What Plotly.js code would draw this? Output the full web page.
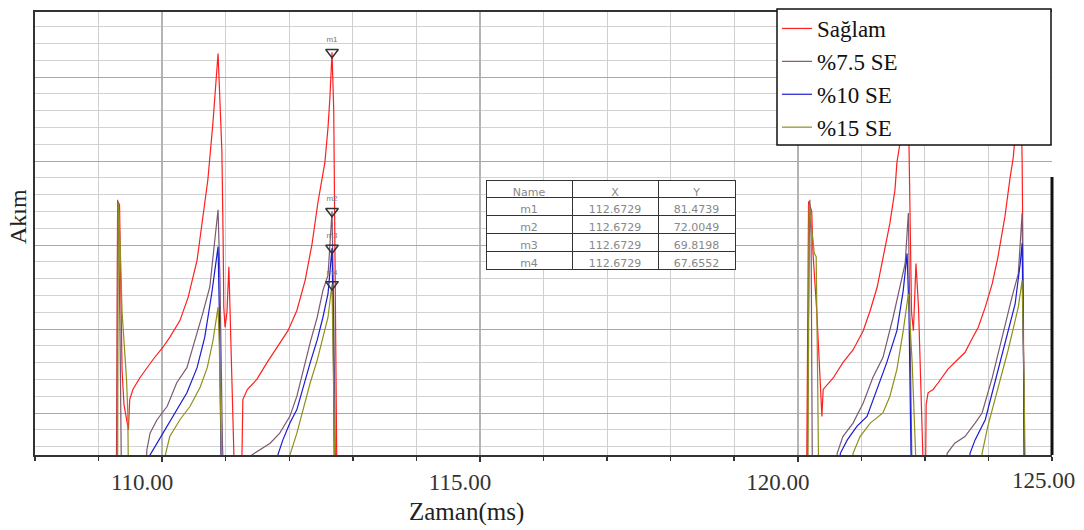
<!DOCTYPE html>
<html>
<head>
<meta charset="utf-8">
<script src="https://cdn.plot.ly/plotly-3.0.1.min.js"></script>
<style>html,body{margin:0;padding:0;background:#fff;}#chart{width:1084px;height:530px;}</style>
</head>
<body>
<div id="chart"></div>
<script>
// ---- data (time in ms, current value) ----
const seriesNames = ['Sağlam', '%7.5 SE', '%10 SE', '%15 SE'];

const saglam = [
  [108,56],[109.28,56],[109.29,63.2],[109.30,72.6],[109.33,72.4],[109.35,66.0],[109.37,62.5],[109.40,60.5],[109.45,59.4],[109.47,59.0],
  [109.49,60.8],[109.54,61.4],[109.65,62.1],[109.76,62.7],[109.86,63.2],[110.01,63.9],[110.12,64.5],[110.28,65.5],[110.41,66.9],[110.55,69.1],
  [110.64,71.5],[110.72,73.9],[110.80,77.3],[110.86,80.2],[110.88,81.4],[110.91,78.5],[110.94,75.6],[110.96,70.3],[110.97,66.3],[110.99,65.1],
  [111.02,66.0],[111.05,68.7],[111.08,65.0],[111.10,62.7],[111.12,59.0],[111.14,56],
  [111.25,56],[111.26,60.2],[111.27,60.8],[111.34,61.4],[111.49,62.0],[111.65,63.0],[111.81,63.9],[111.98,64.9],[112.12,66.1],[112.25,67.9],
  [112.36,70.1],[112.45,72.5],[112.56,74.9],[112.61,77.0],[112.64,78.8],[112.6729,81.4739],[112.70,78.0],[112.72,70.0],[112.74,60.0],[112.75,56],
  [120.14,56],[120.15,65.0],[120.17,72.6],[120.22,72.0],[120.24,69.5],[120.30,66.0],[120.35,62.0],[120.38,59.8],[120.40,61.4],[120.56,62.1],
  [120.71,63.0],[120.87,63.75],[121.03,64.9],[121.14,66.1],[121.25,67.5],[121.34,69.3],[121.45,71.3],[121.53,73.3],[121.56,74.9],[121.61,76.1],
  [121.69,81.5],[121.75,76.0],[121.79,66.0],[121.82,64.9],[121.86,68.9],[121.90,66.3],[121.94,62.0],[121.98,56],
  [122.01,56],[122.02,60.5],[122.05,61.2],[122.13,61.4],[122.21,61.8],[122.36,62.6],[122.52,63.2],[122.63,63.6],[122.74,64.4],[122.84,65.1],
  [122.95,66.3],[123.06,67.7],[123.15,69.3],[123.26,71.7],[123.34,74.0],[123.39,75.2],[123.42,76.5],[123.50,81.5],[123.53,75.0],[123.55,66.0],
  [123.56,56],[124,56]
];

const se75 = [
  [108,56],[109.29,56],[109.30,72.7],[109.32,70.0],[109.34,64.0],[109.36,56],
  [109.74,56],[109.76,57.8],[109.81,58.8],[109.92,59.6],[110.08,60.4],[110.23,61.8],[110.39,62.7],[110.55,64.75],[110.64,65.95],[110.75,67.5],
  [110.83,70.3],[110.88,72.1],[110.91,68.0],[110.93,62.0],[110.95,58.0],[110.97,56],
  [111.40,56],[111.41,57.5],[111.54,57.8],[111.70,58.2],[111.85,58.8],[112.01,59.8],[112.12,61.0],[112.22,62.6],[112.33,64.2],[112.44,65.7],
  [112.53,67.3],[112.61,68.2],[112.6729,72.0049],[112.70,66.0],[112.72,58.0],[112.73,56],
  [120.15,56],[120.16,63.0],[120.19,72.7],[120.21,70.5],[120.23,56],
  [120.61,56],[120.62,57.6],[120.71,58.6],[120.87,59.4],[121.03,60.6],[121.18,62.1],[121.34,63.3],[121.50,65.7],[121.61,67.5],[121.69,68.9],
  [121.74,71.9],[121.76,66.0],[121.78,60.0],[121.80,56],
  [122.34,56],[122.35,57.6],[122.47,58.2],[122.63,58.6],[122.79,59.4],[122.90,60.0],[123.06,62.1],[123.21,64.5],[123.37,66.9],[123.47,68.3],
  [123.53,71.9],[123.55,64.0],[123.57,56],[124,56]
];

const se10 = [
  [108,56],[109.80,56],[109.81,57.5],[109.92,58.2],[110.08,59.2],[110.23,60.2],[110.39,61.2],[110.55,62.7],[110.67,64.5],[110.78,67.1],
  [110.86,69.3],[110.88,69.9],[110.90,66.0],[110.92,60.0],[110.93,56],
  [111.81,56],[111.82,57.5],[111.90,58.4],[112.01,59.4],[112.12,60.2],[112.22,61.55],[112.33,63.0],[112.44,64.35],[112.53,65.7],[112.61,67.1],
  [112.6729,69.8198],[112.69,66.0],[112.70,61.8],[112.71,56],
  [120.66,56],[120.67,57.6],[120.78,58.4],[120.93,59.2],[121.09,59.8],[121.25,61.4],[121.40,63.0],[121.56,64.9],[121.66,67.3],[121.72,69.5],
  [121.75,66.0],[121.78,58.0],[121.79,56],
  [122.70,56],[122.71,57.6],[122.79,58.4],[122.95,59.6],[123.10,61.8],[123.26,64.2],[123.42,66.5],[123.50,68.9],[123.53,70.1],[123.55,64.0],
  [123.57,56],[124,56]
];

const se15 = [
  [108,56],[109.30,56],[109.31,72.5],[109.34,70.0],[109.37,66.0],[109.44,62.0],[109.46,60.0],[109.47,56],
  [110.03,56],[110.05,57.5],[110.12,58.6],[110.28,59.6],[110.44,60.4],[110.60,61.55],[110.71,62.7],[110.80,64.3],[110.88,66.3],[110.90,64.0],
  [110.93,58.0],[110.94,56],
  [112.00,56],[112.01,57.5],[112.12,58.8],[112.22,60.2],[112.33,61.8],[112.44,63.15],[112.53,64.5],[112.61,65.7],[112.6729,67.6552],[112.70,62.0],
  [112.72,56],
  [120.16,56],[120.17,64.0],[120.18,72.4],[120.26,69.5],[120.29,69.3],[120.31,63.0],[120.33,56],
  [120.86,56],[120.87,57.6],[120.98,58.6],[121.14,59.4],[121.34,60.0],[121.45,61.0],[121.56,62.6],[121.66,64.9],[121.74,67.1],[121.80,63.0],
  [121.85,58.0],[121.87,56],
  [122.89,56],[122.90,57.6],[122.99,59.2],[123.15,61.4],[123.31,63.75],[123.47,66.3],[123.53,67.9],[123.56,62.0],[123.58,56],[124,56]
];

const markerNames = ['m1', 'm2', 'm3', 'm4'];
const markerX = [112.6729, 112.6729, 112.6729, 112.6729];
const markerY = [81.4739, 72.0049, 69.8198, 67.6552];

const lastTickLabel = '125.00';
const xTitle = 'Zaman(ms)';
const yTitle = 'Akım';

// ---- styling ----
const colors = ['#ff1f1f', '#7a5a72', '#1c1cd0', '#8f8f1c'];
const serif = 'Liberation Serif, Times New Roman, serif';

const allSeries = [saglam, se75, se10, se15];
const traces = allSeries.map((s, i) => ({
  type: 'scatter',
  mode: 'lines',
  name: seriesNames[i],
  x: s.map(p => p[0]),
  y: s.map(p => p[1]),
  line: {color: colors[i], width: 1.2},
  hoverinfo: 'skip'
}));

traces.push({
  type: 'scatter',
  mode: 'markers+text',
  x: markerX,
  y: markerY,
  text: markerNames,
  textposition: 'top center',
  textfont: {family: 'Arial', size: 8, color: '#777'},
  marker: {symbol: 'triangle-down-open', size: 11, color: '#333', line: {width: 1.5, color: '#333'}},
  cliponaxis: false,
  showlegend: false,
  hoverinfo: 'skip'
});

const plotL = 35, plotR = 1052, plotT = 12, plotB = 455;
const pw = plotR - plotL, ph = plotB - plotT;
const px = v => (v - plotL) / pw;
const py = v => (plotB - v) / ph;

traces.push({
  type: 'table',
  domain: {x: [px(486), px(735)], y: [py(274), py(180)]},
  columnwidth: [86, 86, 77],
  header: {
    values: ['Name', 'X', 'Y'],
    align: 'center',
    height: 17,
    line: {color: '#333', width: 1},
    fill: {color: '#fff'},
    font: {family: 'DejaVu Sans', size: 11, color: '#888'}
  },
  cells: {
    values: [markerNames, markerX.map(v => v.toFixed(4)), markerY.map(v => v.toFixed(4))],
    align: 'center',
    height: 18,
    line: {color: '#333', width: 1},
    fill: {color: '#fff'},
    font: {family: 'DejaVu Sans', size: 11, color: '#888'}
  }
});

const layout = {
  width: 1084,
  height: 530,
  margin: {l: plotL, r: 1084 - plotR, t: plotT, b: 530 - plotB, autoexpand: false},
  paper_bgcolor: '#fff',
  plot_bgcolor: '#fff',
  showlegend: true,
  legend: {
    x: px(777), y: py(7), xanchor: 'left', yanchor: 'top',
    bgcolor: 'rgba(0,0,0,0)', borderwidth: 0,
    font: {family: serif, size: 23, color: '#111'},
    traceorder: 'normal'
  },
  xaxis: {
    range: [108, 124],
    tickmode: 'linear',
    tick0: 110,
    dtick: 5,
    tickformat: '.2f',
    ticks: 'outside', ticklen: 5, tickcolor: '#333', tickwidth: 1.5,
    showline: true, linecolor: '#333', linewidth: 2, mirror: true,
    showgrid: true, gridcolor: '#b4b4b4', gridwidth: 2,
    zeroline: false,
    minor: {dtick: 1, tick0: 108, ticks: 'outside', ticklen: 4, tickcolor: '#333', showgrid: true, gridcolor: '#cfcfcf', gridwidth: 1},
    tickfont: {family: serif, size: 23, color: '#333'},
    ticklabelshift: -20,
    ticklabelstandoff: 0
  },
  yaxis: {
    range: [57.5, 83.87],
    tick0: 0, dtick: 5,
    showticklabels: false,
    ticks: '',
    showline: true, linecolor: '#333', linewidth: 2.5,
    showgrid: true, gridcolor: '#a8a8a8', gridwidth: 1,
    zeroline: false,
    minor: {dtick: 1, showgrid: true, gridcolor: '#d2d2d2', gridwidth: 1}
  },
  shapes: [
    {type: 'rect', xref: 'paper', yref: 'paper', x0: px(777), x1: px(1051), y0: py(145), y1: py(9),
     fillcolor: '#fff', line: {color: '#111', width: 1.5}, layer: 'above'},
    {type: 'line', xref: 'paper', yref: 'paper', x0: 1, x1: 1, y0: 0, y1: py(177),
     line: {color: '#111', width: 3}, layer: 'above'}
  ],
  annotations: [
    {text: xTitle, xref: 'paper', yref: 'paper', x: px(466), y: py(512), xanchor: 'center', yanchor: 'middle',
     showarrow: false, font: {family: serif, size: 25, color: '#222'}},
    {text: yTitle, xref: 'paper', yref: 'paper', x: px(18), y: py(217), xanchor: 'center', yanchor: 'middle',
     textangle: -90, showarrow: false, font: {family: serif, size: 24, color: '#222'}},
    {text: lastTickLabel, xref: 'paper', yref: 'paper', x: px(1043), y: py(480), xanchor: 'center', yanchor: 'middle',
     showarrow: false, font: {family: serif, size: 23, color: '#333'}}
  ]
};

Plotly.newPlot('chart', traces, layout, {displayModeBar: false, staticPlot: true});
</script>
</body>
</html>
